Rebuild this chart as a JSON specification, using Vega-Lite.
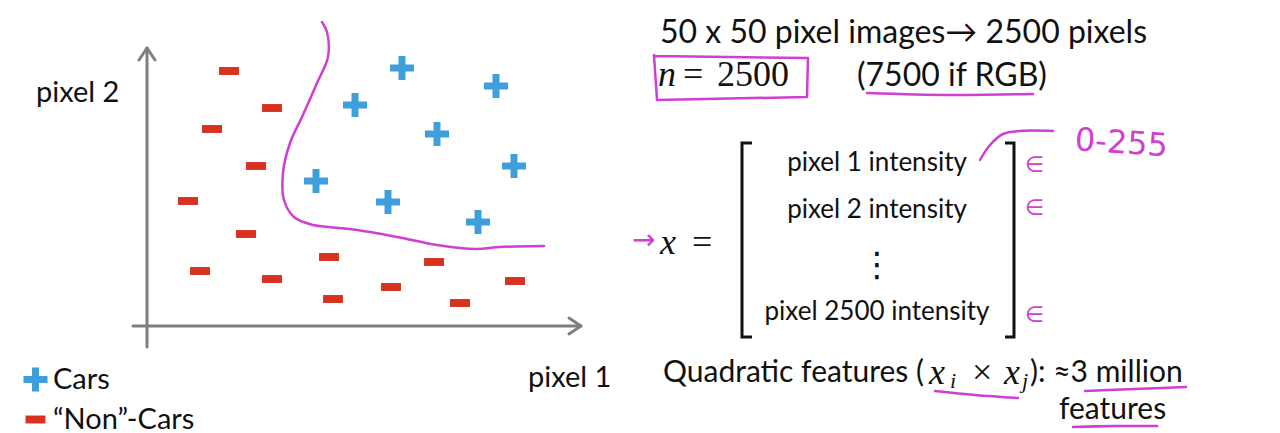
{
  "$schema": "https://vega.github.io/schema/vega-lite/v6.json",
  "width": 1280,
  "height": 433,
  "padding": 0,
  "autosize": {"type": "fit", "contains": "padding"},
  "background": "white",
  "config": {"view": {"stroke": null}},
  "datasets": {
    "pts": [
      {"class": "Cars", "p1": 25.5, "p2": 25.8},
      {"class": "Cars", "p1": 34.9, "p2": 24.0},
      {"class": "Cars", "p1": 20.8, "p2": 22.1},
      {"class": "Cars", "p1": 29.0, "p2": 19.2},
      {"class": "Cars", "p1": 36.7, "p2": 16.0},
      {"class": "Cars", "p1": 16.9, "p2": 14.5},
      {"class": "Cars", "p1": 24.1, "p2": 12.4},
      {"class": "Cars", "p1": 33.1, "p2": 10.4},
      {"class": "“Non”-Cars", "p1": 8.2, "p2": 25.5},
      {"class": "“Non”-Cars", "p1": 12.5, "p2": 21.8},
      {"class": "“Non”-Cars", "p1": 6.5, "p2": 19.7},
      {"class": "“Non”-Cars", "p1": 10.9, "p2": 16.0},
      {"class": "“Non”-Cars", "p1": 4.1, "p2": 12.5},
      {"class": "“Non”-Cars", "p1": 9.9, "p2": 9.2},
      {"class": "“Non”-Cars", "p1": 5.3, "p2": 5.5},
      {"class": "“Non”-Cars", "p1": 12.5, "p2": 4.7},
      {"class": "“Non”-Cars", "p1": 18.2, "p2": 6.9},
      {"class": "“Non”-Cars", "p1": 18.6, "p2": 2.7},
      {"class": "“Non”-Cars", "p1": 24.4, "p2": 3.9},
      {"class": "“Non”-Cars", "p1": 28.7, "p2": 6.4},
      {"class": "“Non”-Cars", "p1": 31.3, "p2": 2.3},
      {"class": "“Non”-Cars", "p1": 36.8, "p2": 4.5}
    ],
    "boundary": [
      {"i": 0, "p1": 17.5, "p2": 30.4},
      {"i": 1, "p1": 18.0, "p2": 29.4},
      {"i": 2, "p1": 18.1, "p2": 26.9},
      {"i": 3, "p1": 17.0, "p2": 24.3},
      {"i": 4, "p1": 15.5, "p2": 20.9},
      {"i": 5, "p1": 14.3, "p2": 18.3},
      {"i": 6, "p1": 13.6, "p2": 15.3},
      {"i": 7, "p1": 13.7, "p2": 12.6},
      {"i": 8, "p1": 14.7, "p2": 10.9},
      {"i": 9, "p1": 16.6, "p2": 10.1},
      {"i": 10, "p1": 18.2, "p2": 9.9},
      {"i": 11, "p1": 21.0, "p2": 9.6},
      {"i": 12, "p1": 25.0, "p2": 8.9},
      {"i": 13, "p1": 29.0, "p2": 8.1},
      {"i": 14, "p1": 32.9, "p2": 7.7},
      {"i": 15, "p1": 35.3, "p2": 7.9},
      {"i": 16, "p1": 39.7, "p2": 8.0}
    ],
    "axes": [
      {"seg": "yaxis", "i": 0, "p1": 0, "p2": -2.1},
      {"seg": "yaxis", "i": 1, "p1": 0, "p2": 27.8},
      {"seg": "yarrow", "i": 0, "p1": -0.8, "p2": 26.6},
      {"seg": "yarrow", "i": 1, "p1": 0, "p2": 27.8},
      {"seg": "yarrow", "i": 2, "p1": 0.8, "p2": 26.6},
      {"seg": "xaxis", "i": 0, "p1": -1.4, "p2": 0},
      {"seg": "xaxis", "i": 1, "p1": 43.4, "p2": 0},
      {"seg": "xarrow", "i": 0, "p1": 42.2, "p2": 0.8},
      {"seg": "xarrow", "i": 1, "p1": 43.4, "p2": 0},
      {"seg": "xarrow", "i": 2, "p1": 42.2, "p2": -0.8}
    ],
    "brackets": [
      {"seg": "left", "i": 0, "p1": 60.5, "p2": 18.3},
      {"seg": "left", "i": 1, "p1": 59.5, "p2": 18.3},
      {"seg": "left", "i": 2, "p1": 59.5, "p2": -1.1},
      {"seg": "left", "i": 3, "p1": 60.5, "p2": -1.1},
      {"seg": "right", "i": 0, "p1": 85.8, "p2": 18.3},
      {"seg": "right", "i": 1, "p1": 86.7, "p2": 18.3},
      {"seg": "right", "i": 2, "p1": 86.7, "p2": -1.1},
      {"seg": "right", "i": 3, "p1": 85.8, "p2": -1.1}
    ],
    "box": [
      {"i": 0, "p1": 50.7, "p2": 27.1},
      {"i": 1, "p1": 51.0, "p2": 22.6},
      {"i": 2, "p1": 66.0, "p2": 22.9},
      {"i": 3, "p1": 66.1, "p2": 26.8},
      {"i": 4, "p1": 50.8, "p2": 27.0}
    ],
    "ink": [
      {"seg": "rgb", "i": 0, "p1": 72.0, "p2": 23.3},
      {"seg": "rgb", "i": 1, "p1": 80.3, "p2": 23.1},
      {"seg": "rgb", "i": 2, "p1": 88.6, "p2": 23.2},
      {"seg": "range", "i": 0, "p1": 83.3, "p2": 16.6},
      {"seg": "range", "i": 1, "p1": 84.3, "p2": 18.1},
      {"seg": "range", "i": 2, "p1": 85.6, "p2": 19.2},
      {"seg": "range", "i": 3, "p1": 87.3, "p2": 19.5},
      {"seg": "range", "i": 4, "p1": 90.6, "p2": 19.5},
      {"seg": "xixj", "i": 0, "p1": 78.8, "p2": -6.5},
      {"seg": "xixj", "i": 1, "p1": 82.8, "p2": -6.9},
      {"seg": "xixj", "i": 2, "p1": 87.1, "p2": -7.2},
      {"seg": "million", "i": 0, "p1": 93.8, "p2": -6.5},
      {"seg": "million", "i": 1, "p1": 98.8, "p2": -6.3},
      {"seg": "million", "i": 2, "p1": 103.9, "p2": -6.1},
      {"seg": "features", "i": 0, "p1": 92.6, "p2": -10.1},
      {"seg": "features", "i": 1, "p1": 96.8, "p2": -10.0},
      {"seg": "features", "i": 2, "p1": 101.0, "p2": -10.0}
    ],
    "axisTitles": [
      {"t": "pixel 2", "p1": -11.1, "p2": 23.3},
      {"t": "pixel 1", "p1": 38.1, "p2": -5.2}
    ],
    "bigText": [
      {"t": "50 x 50 pixel images→ 2500 pixels", "p1": 51.3, "p2": 29.3},
      {"t": "(7500 if RGB)", "p1": 71.0, "p2": 25.0}
    ],
    "quadText": [
      {"t": "Quadratic features (", "p1": 51.6, "p2": -4.7},
      {"t": "): ≈3 million", "p1": 88.3, "p2": -4.7},
      {"t": "features", "p1": 91.2, "p2": -8.4}
    ],
    "matrix": [
      {"t": "pixel 1 intensity", "p1": 73.0, "p2": 16.3},
      {"t": "pixel 2 intensity", "p1": 73.0, "p2": 11.6},
      {"t": "pixel 2500 intensity", "p1": 73.0, "p2": 1.4}
    ],
    "ellipsis": [
      {"t": "⋮", "p1": 73.0, "p2": 6.0}
    ],
    "mathItalic": [
      {"t": "n", "p1": 51.1, "p2": 25.1},
      {"t": "x", "p1": 51.3, "p2": 8.3},
      {"t": "x", "p1": 78.2, "p2": -4.7},
      {"t": "x", "p1": 85.7, "p2": -4.7}
    ],
    "mathRoman": [
      {"t": "=", "p1": 53.6, "p2": 25.1},
      {"t": "2500", "p1": 57.0, "p2": 25.1},
      {"t": "=", "p1": 54.5, "p2": 8.3},
      {"t": "×", "p1": 82.5, "p2": -4.7}
    ],
    "mathSub": [
      {"t": "i", "p1": 80.3, "p2": -5.5},
      {"t": "j", "p1": 87.5, "p2": -5.5}
    ],
    "handNote": [
      {"t": "0-255", "p1": 92.8, "p2": 18.6}
    ],
    "handMarks": [
      {"t": "∈", "p1": 87.8, "p2": 16.1},
      {"t": "∈", "p1": 87.8, "p2": 11.8},
      {"t": "∈", "p1": 87.8, "p2": 1.1}
    ],
    "handArrow": [
      {"t": "→", "p1": 48.5, "p2": 8.5}
    ]
  },
  "encoding": {
    "x": {"field": "p1", "type": "quantitative", "axis": null, "scale": {"domain": [-14.7, 113.3], "nice": false, "zero": false}},
    "y": {"field": "p2", "type": "quantitative", "axis": null, "scale": {"domain": [-10.7, 32.6], "nice": false, "zero": false}}
  },
  "layer": [
    {
      "data": {"name": "axes"},
      "mark": {"type": "line", "color": "#7f7f7f", "strokeWidth": 3, "strokeCap": "round", "strokeJoin": "round"},
      "encoding": {"detail": {"field": "seg"}, "order": {"field": "i"}}
    },
    {
      "data": {"name": "boundary"},
      "mark": {"type": "line", "color": "#cf3fd3", "strokeWidth": 2.5, "interpolate": "catmull-rom", "strokeCap": "round"},
      "encoding": {"order": {"field": "i"}}
    },
    {
      "data": {"name": "pts"},
      "mark": {"type": "point", "filled": true, "opacity": 1, "size": 576, "strokeWidth": 0},
      "encoding": {
        "shape": {"field": "class", "type": "nominal", "scale": {"domain": ["Cars", "“Non”-Cars"], "range": ["M-0.29,-1H0.29V-0.29H1V0.29H0.29V1H-0.29V0.29H-1V-0.29H-0.29Z", "M-0.83,-0.33H0.83V0.33H-0.83Z"]}},
        "color": {"field": "class", "type": "nominal", "scale": {"domain": ["Cars", "“Non”-Cars"], "range": ["#3d9fdc", "#d8321e"]},
          "legend": {"title": null, "orient": "none", "legendX": 21, "legendY": 365, "labelFont": "Lato", "labelFontSize": 29, "labelColor": "#111111", "labelOffset": 3, "rowPadding": 10, "symbolSize": 576, "symbolStrokeWidth": 0, "padding": 0}}
      }
    },
    {
      "data": {"name": "brackets"},
      "mark": {"type": "line", "color": "#111111", "strokeWidth": 3},
      "encoding": {"detail": {"field": "seg"}, "order": {"field": "i"}}
    },
    {
      "data": {"name": "box"},
      "mark": {"type": "line", "color": "#cf3fd3", "strokeWidth": 2.5, "strokeCap": "round", "strokeJoin": "round"},
      "encoding": {"order": {"field": "i"}}
    },
    {
      "data": {"name": "ink"},
      "mark": {"type": "line", "color": "#cf3fd3", "strokeWidth": 2.5, "interpolate": "catmull-rom", "strokeCap": "round", "strokeJoin": "round"},
      "encoding": {"detail": {"field": "seg"}, "order": {"field": "i"}}
    },
    {
      "data": {"name": "axisTitles"},
      "mark": {"type": "text", "align": "left", "baseline": "middle", "font": "Lato", "fontSize": 29, "color": "#111111"},
      "encoding": {"text": {"field": "t"}}
    },
    {
      "data": {"name": "bigText"},
      "mark": {"type": "text", "align": "left", "baseline": "middle", "font": "Lato", "fontSize": 32, "color": "#111111"},
      "encoding": {"text": {"field": "t"}}
    },
    {
      "data": {"name": "quadText"},
      "mark": {"type": "text", "align": "left", "baseline": "middle", "font": "Lato", "fontSize": 30, "color": "#111111"},
      "encoding": {"text": {"field": "t"}}
    },
    {
      "data": {"name": "matrix"},
      "mark": {"type": "text", "align": "center", "baseline": "middle", "font": "Lato", "fontSize": 26, "color": "#111111"},
      "encoding": {"text": {"field": "t"}}
    },
    {
      "data": {"name": "ellipsis"},
      "mark": {"type": "text", "align": "center", "baseline": "middle", "font": "DejaVu Sans", "fontSize": 34, "color": "#111111"},
      "encoding": {"text": {"field": "t"}}
    },
    {
      "data": {"name": "mathItalic"},
      "mark": {"type": "text", "align": "left", "baseline": "middle", "font": "Liberation Serif", "fontStyle": "italic", "fontSize": 36, "color": "#111111"},
      "encoding": {"text": {"field": "t"}}
    },
    {
      "data": {"name": "mathRoman"},
      "mark": {"type": "text", "align": "left", "baseline": "middle", "font": "Liberation Serif", "fontSize": 36, "color": "#111111"},
      "encoding": {"text": {"field": "t"}}
    },
    {
      "data": {"name": "mathSub"},
      "mark": {"type": "text", "align": "left", "baseline": "middle", "font": "Liberation Serif", "fontStyle": "italic", "fontSize": 22, "color": "#111111"},
      "encoding": {"text": {"field": "t"}}
    },
    {
      "data": {"name": "handNote"},
      "mark": {"type": "text", "align": "left", "baseline": "middle", "font": "DejaVu Sans", "fontSize": 32, "angle": 4, "color": "#cf3fd3"},
      "encoding": {"text": {"field": "t"}}
    },
    {
      "data": {"name": "handMarks"},
      "mark": {"type": "text", "align": "left", "baseline": "middle", "font": "DejaVu Sans", "fontSize": 22, "color": "#cf3fd3"},
      "encoding": {"text": {"field": "t"}}
    },
    {
      "data": {"name": "handArrow"},
      "mark": {"type": "text", "align": "left", "baseline": "middle", "font": "DejaVu Sans", "fontSize": 28, "color": "#cf3fd3"},
      "encoding": {"text": {"field": "t"}}
    }
  ]
}
